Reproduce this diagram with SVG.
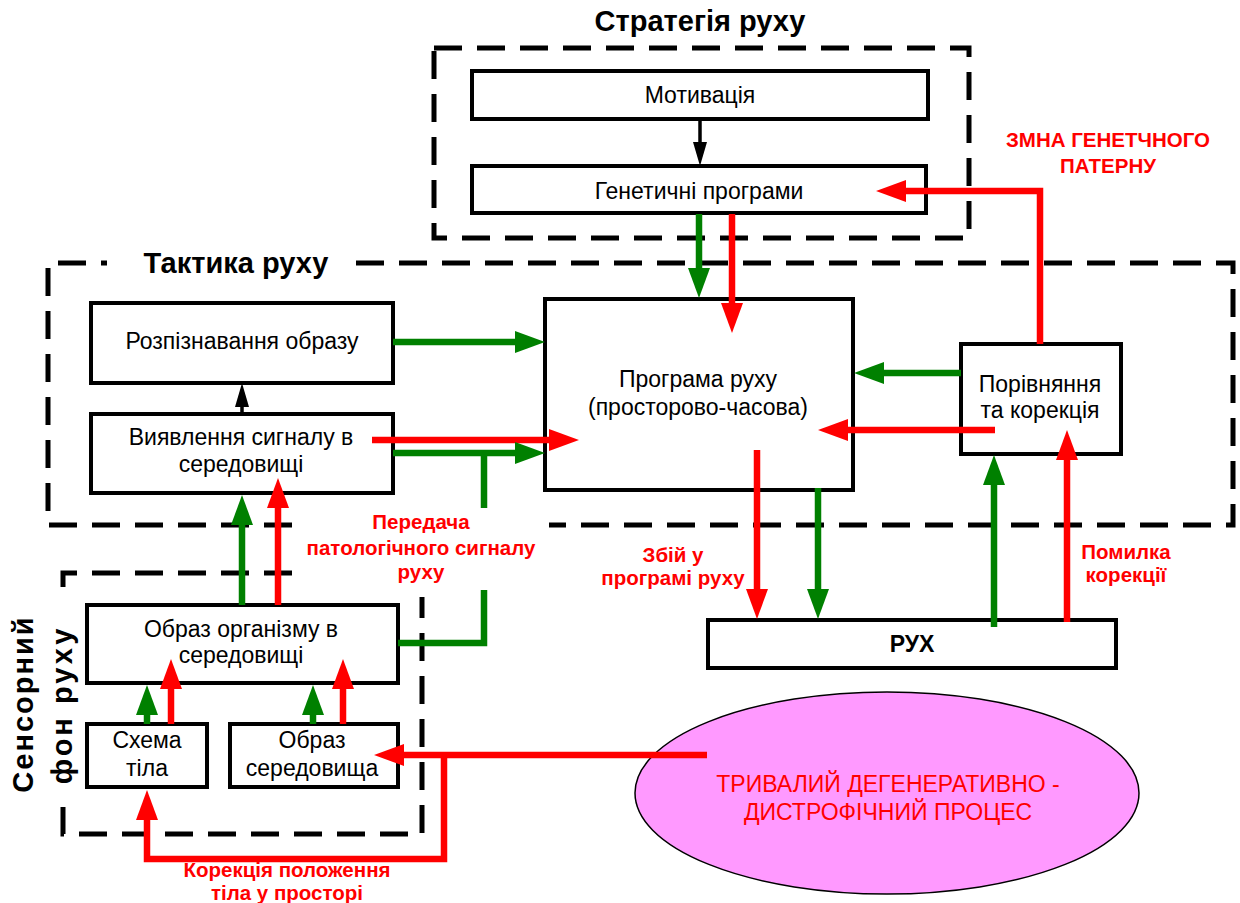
<svg xmlns="http://www.w3.org/2000/svg" width="1240" height="903" viewBox="0 0 1240 903">
<style>
.bx{fill:#fff;stroke:#000;stroke-width:4}
.dash{fill:none;stroke:#000;stroke-width:5;stroke-dasharray:28 15}
.t{font-family:"Liberation Sans",Arial,sans-serif;font-size:23px;fill:#000;text-anchor:middle}
.title{font-family:"Liberation Sans",Arial,sans-serif;font-size:29px;font-weight:bold;fill:#000;text-anchor:middle}
.lbl{font-family:"Liberation Sans",Arial,sans-serif;font-size:20.5px;font-weight:bold;fill:#f00;text-anchor:middle}
.g{fill:none;stroke:#008000;stroke-width:6.5;marker-end:url(#ag)}
.gn{fill:none;stroke:#008000;stroke-width:6.5}
.r{fill:none;stroke:#f00;stroke-width:6.5;marker-end:url(#ar)}
.k{fill:none;stroke:#000;stroke-width:3.5;marker-end:url(#ak)}
</style>
<defs>
<marker id="ag" markerUnits="userSpaceOnUse" markerWidth="32" markerHeight="24" refX="12" refY="11" orient="auto"><path d="M0,0 L30,11 L0,22 z" fill="#008000"/></marker>
<marker id="ar" markerUnits="userSpaceOnUse" markerWidth="32" markerHeight="24" refX="12" refY="11" orient="auto"><path d="M0,0 L30,11 L0,22 z" fill="#f00"/></marker>
<marker id="ak" markerUnits="userSpaceOnUse" markerWidth="26" markerHeight="16" refX="10" refY="7" orient="auto"><path d="M0,0 L24,7 L0,14 z" fill="#000"/></marker>
</defs>
<rect width="1240" height="903" fill="#fff"/>

<g id="frames">
<rect class="dash" x="434" y="48" width="535" height="190"/>
<path class="dash" d="M356 263 H1233 V525 H549 M292 525 H48 V263 H107"/>
<path class="dash" d="M292 573 H63 V597 M63 807 V834 H422 V597"/>
<text class="title" x="700" y="31">Стратегія руху</text>
<text class="title" x="236" y="273" font-size="30">Тактика руху</text>
<text class="title" transform="translate(33 704) rotate(-90)" font-size="28" letter-spacing="2">Сенсорний</text>
<text class="title" transform="translate(72 705) rotate(-90)" font-size="28" font-weight="normal" letter-spacing="3">фон руху</text>
</g>

<g id="motivation"><rect class="bx" x="472" y="71" width="456" height="48"/><text class="t" x="700" y="103">Мотивація</text></g>
<g id="genetic"><rect class="bx" x="472" y="166" width="454" height="47"/><text class="t" x="699" y="199">Генетичні програми</text></g>
<g id="recognition"><rect class="bx" x="91" y="303" width="302" height="80"/><text class="t" x="242" y="349">Розпізнавання образу</text></g>
<g id="detection"><rect class="bx" x="91" y="414" width="302" height="79"/><text class="t" x="241" y="445">Виявлення сигналу в</text><text class="t" x="241" y="472">середовищі</text></g>
<g id="program"><rect class="bx" x="545" y="299" width="308" height="191"/><text class="t" x="698" y="387">Програма руху</text><text class="t" x="698" y="415">(просторово-часова)</text></g>
<g id="compare"><rect class="bx" x="961" y="344" width="160" height="110"/><text class="t" x="1040" y="392">Порівняння</text><text class="t" x="1040" y="418">та корекція</text></g>
<g id="movement"><rect class="bx" x="708" y="620" width="408" height="48"/><text class="t" x="912" y="652" font-weight="bold">РУХ</text></g>
<g id="organism"><rect class="bx" x="87" y="605" width="311" height="78"/><text class="t" x="241" y="637">Образ організму в</text><text class="t" x="241" y="663">середовищі</text></g>
<g id="body-scheme"><rect class="bx" x="87" y="724" width="120" height="63"/><text class="t" x="147" y="748">Схема</text><text class="t" x="147" y="776">тіла</text></g>
<g id="environment"><rect class="bx" x="230" y="724" width="168" height="63"/><text class="t" x="312" y="748">Образ</text><text class="t" x="312" y="776">середовища</text></g>
<g id="process"><ellipse cx="887" cy="793" rx="252" ry="101" fill="#ff99ff" stroke="#000" stroke-width="1.5"/><text class="t" x="888" y="792" font-size="24" style="fill:#f00">ТРИВАЛИЙ ДЕГЕНЕРАТИВНО -</text><text class="t" x="888" y="820" font-size="24" style="fill:#f00">ДИСТРОФІЧНИЙ ПРОЦЕС</text></g>

<g id="connectors">
<path class="k" d="M700 119 V152"/>
<path class="k" d="M242 414 V397"/>
<path class="g" d="M699 214 V280"/>
<path class="r" d="M732 214 V315"/>
<path class="g" d="M393 342 H527"/>
<path class="r" d="M372 440 H561"/>
<path class="g" d="M393 453 H527"/>
<path class="gn" d="M398 643 H484 V590 M484 508 V453"/>
<path class="g" d="M961 373 H872"/>
<path class="r" d="M995 430 H836"/>
<path class="r" d="M757 450 V601"/>
<path class="g" d="M818 488 V601"/>
<path class="g" d="M994 627 V473"/>
<path class="r" d="M1067 622 V448"/>
<path class="r" d="M1040 344 V191 H894"/>
<path class="g" d="M242 605 V513"/>
<path class="r" d="M278 605 V496"/>
<path class="g" d="M147 724 V703"/>
<path class="r" d="M171 724 V677"/>
<path class="g" d="M313 724 V703"/>
<path class="r" d="M343 724 V677"/>
<path class="r" d="M707 755 H392"/>
<path class="r" d="M444 755 V859 H147 V808"/>
</g>

<g id="labels">
<text class="lbl" x="1108" y="147">ЗМНА ГЕНЕТЧНОГО</text>
<text class="lbl" x="1108" y="173">ПАТЕРНУ</text>
<text class="lbl" x="421" y="529">Передача</text>
<text class="lbl" x="421" y="555">патологічного сигналу</text>
<text class="lbl" x="421" y="579">руху</text>
<text class="lbl" x="673" y="562">Збій у</text>
<text class="lbl" x="673" y="585">програмі руху</text>
<text class="lbl" x="1126" y="559">Помилка</text>
<text class="lbl" x="1126" y="582">корекції</text>
<text class="lbl" x="287" y="877">Корекція положення</text>
<text class="lbl" x="287" y="900">тіла у просторі</text>
</g>
</svg>
